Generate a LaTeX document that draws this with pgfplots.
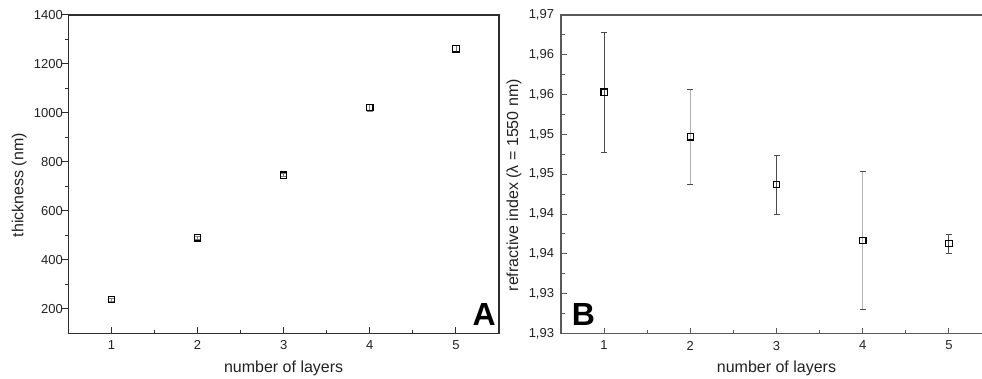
\documentclass[border=0pt]{standalone}
\usepackage{fontspec}
\setmainfont{Liberation Sans}
\usepackage{pgfplots}
\pgfplotsset{compat=1.18}
\definecolor{frameA}{HTML}{2E2E2E}
\definecolor{frameB}{HTML}{5A5A5A}
\definecolor{ticktext}{HTML}{222222}
\definecolor{errdark}{HTML}{4A4A4A}
\definecolor{errlight}{HTML}{B0B0B0}
\pgfplotsset{
  common/.style={
    scale only axis,
    xmin=0.5, xmax=5.5,
    xtick={1,2,3,4,5}, minor x tick num=1,
    minor y tick num=1,
    tick pos=left,
    tick align=inside,
    major tick length=6pt, minor tick length=3.5pt,
    /pgf/number format/assume math mode=true,
    /pgf/number format/1000 sep={},
    tick label style={font=\fontsize{13}{15}\selectfont, color=ticktext},
    label style={font=\fontsize{16}{19}\selectfont, color=ticktext},
    xticklabel style={yshift=-4pt},
    xlabel={number of layers},
    xlabel style={at={(axis description cs:0.5,0)}, anchor=base, yshift=-39pt},
  }
}
\begin{document}
\begin{tikzpicture}
\begin{axis}[common,
  name=A,
  at={(68.3pt,-333.3pt)}, anchor=south west,
  width=430.7pt, height=318.3pt,
  ymin=100, ymax=1400,
  ytick={200,400,600,800,1000,1200,1400},
  axis line style={frameA, line width=1.1pt},
  major tick style={frameA, line width=1pt},
  minor tick style={frameA, line width=1pt},
  every major y tick/.append style={xshift=-6pt},
  every minor y tick/.append style={xshift=-3.5pt},
  yticklabel style={xshift=-2pt},
  ylabel={thickness (nm)},
  ylabel style={at={(axis description cs:0,0.5)}, anchor=center, xshift=-11pt, yshift=49pt},
]
\addplot[only marks, mark=square, mark size=3.2pt, mark options={black, line width=1.2pt},
  error bars/.cd, y dir=both, y explicit,
  error bar style={color=gray, line width=0.8pt},
  error mark options={rotate=90, mark size=3pt, gray}]
coordinates {
  (1,238)  +- (0,6)
  (2,490)  +- (0,6)
  (3,746)  +- (0,6)
  (4,1022) +- (0,15)
  (5,1262) +- (0,15)
};
\node[anchor=south east, inner sep=0pt, font=\fontsize{32}{36}\selectfont\bfseries]
  at (rel axis cs:1,0) [xshift=-3pt, yshift=8pt] {A};
\end{axis}
\begin{axis}[common,
  at={(561pt,-333.5pt)}, anchor=south west,
  width=431pt, height=318.5pt,
  ymin=1.925, ymax=1.965,
  ytick={1.925,1.930,1.935,1.940,1.945,1.950,1.955,1.960,1.965},
  yticklabels={{1,93},{1,93},{1,94},{1,94},{1,95},{1,95},{1,96},{1,96},{1,97}},
  axis line style={frameB, line width=1.1pt},
  major tick style={frameB, line width=1pt},
  minor tick style={frameB, line width=1pt},
  yticklabel style={xshift=-3.4pt},
  ylabel={refractive index (λ = 1550 nm)},
  ylabel style={at={(axis description cs:0,0.5)}, anchor=center, xshift=-11pt, yshift=47pt},
]
\addplot[only marks, mark=square, mark size=3.2pt, mark options={black, line width=1.2pt},
  error bars/.cd, y dir=both, y explicit,
  error bar style={color=errdark, line width=0.9pt},
  error mark options={rotate=90, mark size=3pt, errdark, line width=0.9pt}]
coordinates {
  (1,1.9553) +- (0,0.0075)
  (3,1.9437) +- (0,0.0037)
  (5,1.9363) +- (0,0.0012)
};
\addplot[only marks, mark=square, mark size=3.2pt, mark options={black, line width=1.2pt},
  error bars/.cd, y dir=both, y explicit,
  error bar style={color=errlight, line width=0.9pt},
  error mark options={rotate=90, mark size=3pt, errdark, line width=0.9pt}]
coordinates {
  (2,1.9497) +- (0,0.0060)
  (4,1.9367) +- (0,0.0087)
};
\node[anchor=south west, inner sep=0pt, font=\fontsize{32}{36}\selectfont\bfseries]
  at (rel axis cs:0,0) [xshift=10.7pt, yshift=8pt] {B};
\end{axis}
\pgfresetboundingbox
\path[use as bounding box] (0pt,0pt) rectangle (982pt,-379pt);
\end{tikzpicture}
\end{document}
